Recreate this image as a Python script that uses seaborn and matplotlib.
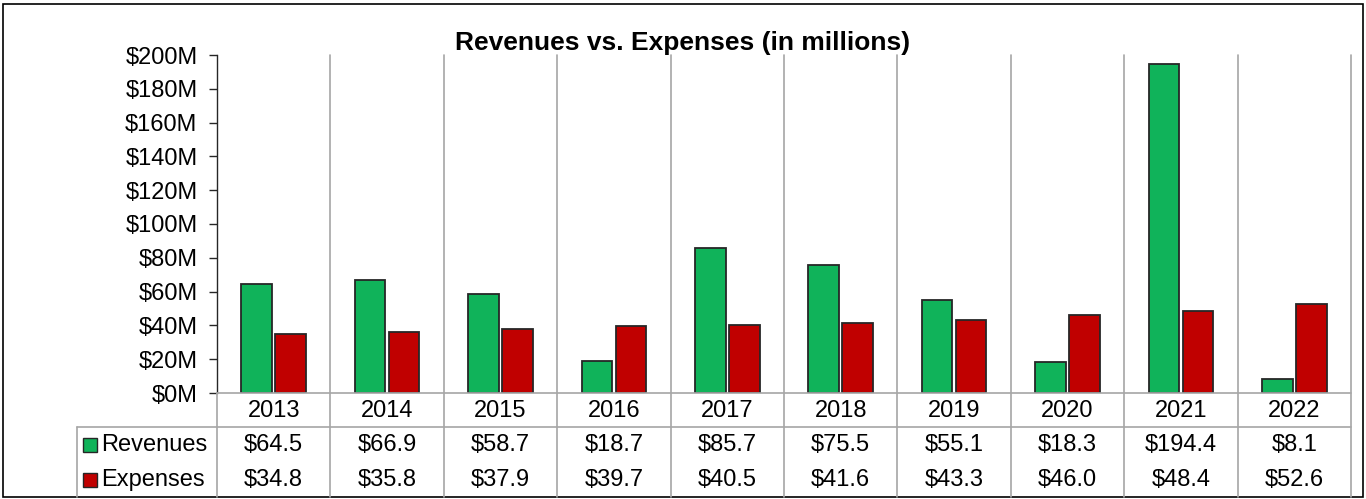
import matplotlib
matplotlib.use("Agg")
import matplotlib.pyplot as plt
import seaborn as sns
import pandas as pd
from matplotlib.lines import Line2D
from matplotlib.patches import Rectangle
from matplotlib.transforms import blended_transform_factory

years = ["2013", "2014", "2015", "2016", "2017", "2018", "2019", "2020", "2021", "2022"]
revenues = [64.5, 66.9, 58.7, 18.7, 85.7, 75.5, 55.1, 18.3, 194.4, 8.1]
expenses = [34.8, 35.8, 37.9, 39.7, 40.5, 41.6, 43.3, 46.0, 48.4, 52.6]
series_names = ["Revenues", "Expenses"]
colors = ["#10B35A", "#C00000"]
yticks = [0, 20, 40, 60, 80, 100, 120, 140, 160, 180, 200]

sns.set_style("white")
plt.rcParams['font.family'] = ['Liberation Sans', 'DejaVu Sans']
plt.rcParams['text.color'] = 'black'
plt.rcParams['ytick.labelcolor'] = 'black'

FS = 17

df = pd.DataFrame({
    "year": years * 2,
    "value": revenues + expenses,
    "series": [series_names[0]] * len(years) + [series_names[1]] * len(years),
})

W, H = 1366, 499
fig = plt.figure(figsize=(W / 100, H / 100), dpi=100)
left, right, top, bottom = 217, 1351, 55, 393
ax = fig.add_axes([left / W, 1 - bottom / H, (right - left) / W, (bottom - top) / H])

sns.barplot(data=df, x="year", y="value", hue="series", palette=colors,
            width=0.6, gap=0.1, edgecolor="#262626", linewidth=1.3,
            ax=ax, legend=False, saturation=1)

ax.set_xlim(-0.5, len(years) - 0.5)
ax.set_ylim(0, 200)
ax.set_yticks(yticks)
ax.set_yticklabels([f"${v}M" for v in yticks], fontsize=FS, color="black")
ax.set_xticks([])
ax.set_xlabel("")
ax.set_ylabel("")
for s in ["top", "right", "bottom"]:
    ax.spines[s].set_visible(False)
ax.spines["left"].set_color("#262626")
ax.spines["left"].set_linewidth(1.0)
ax.tick_params(axis="y", length=6, width=1, color="#262626", pad=8, left=True)

fig.text(683 / W, 1 - 43 / H, "Revenues vs. Expenses (in millions)",
         ha="center", va="center", fontsize=19, fontweight="bold")

grid_c = "#A6A6A6"
bt = blended_transform_factory(ax.transData, fig.transFigure)

def fy(py):
    return 1 - py / H

# vertical gridlines through chart and table
for i in range(1, len(years)):
    fig.add_artist(Line2D([i - 0.5, i - 0.5], [fy(top), fy(497)], transform=bt,
                          color=grid_c, lw=1.2))
fig.add_artist(Line2D([len(years) - 0.5] * 2, [fy(top), fy(497)], transform=bt,
                      color=grid_c, lw=1.2))
# left axis continuing down the table
fig.add_artist(Line2D([left / W, left / W], [fy(bottom), fy(497)], color=grid_c, lw=1.2))
# horizontal table lines
fig.add_artist(Line2D([left / W, right / W], [fy(bottom), fy(bottom)], color=grid_c, lw=1.2))
fig.add_artist(Line2D([77 / W, right / W], [fy(427), fy(427)], color=grid_c, lw=1.2))
fig.add_artist(Line2D([77 / W, 77 / W], [fy(427), fy(497)], color=grid_c, lw=1.2))

# table text
for i, yr in enumerate(years):
    fig.text(i, fy(411), yr, transform=bt, ha="center", va="center", fontsize=FS)
    fig.text(i, fy(445), f"${revenues[i]:.1f}", transform=bt, ha="center", va="center", fontsize=FS)
    fig.text(i, fy(480), f"${expenses[i]:.1f}", transform=bt, ha="center", va="center", fontsize=FS)

for name, col, py in zip(series_names, colors, [445, 480]):
    fig.add_artist(Rectangle((83 / W, fy(py + 7)), 14 / W, 14 / H, transform=fig.transFigure,
                             facecolor=col, edgecolor="#262626", lw=1))
    fig.text(101 / W, fy(py), name, ha="left", va="center", fontsize=FS)

# outer border
fig.add_artist(Rectangle((3 / W, fy(497)), (1363 - 3) / W, (497 - 4) / H,
                         transform=fig.transFigure, fill=False, edgecolor="black", lw=1.2))

fig.savefig("out.png", dpi=100)
